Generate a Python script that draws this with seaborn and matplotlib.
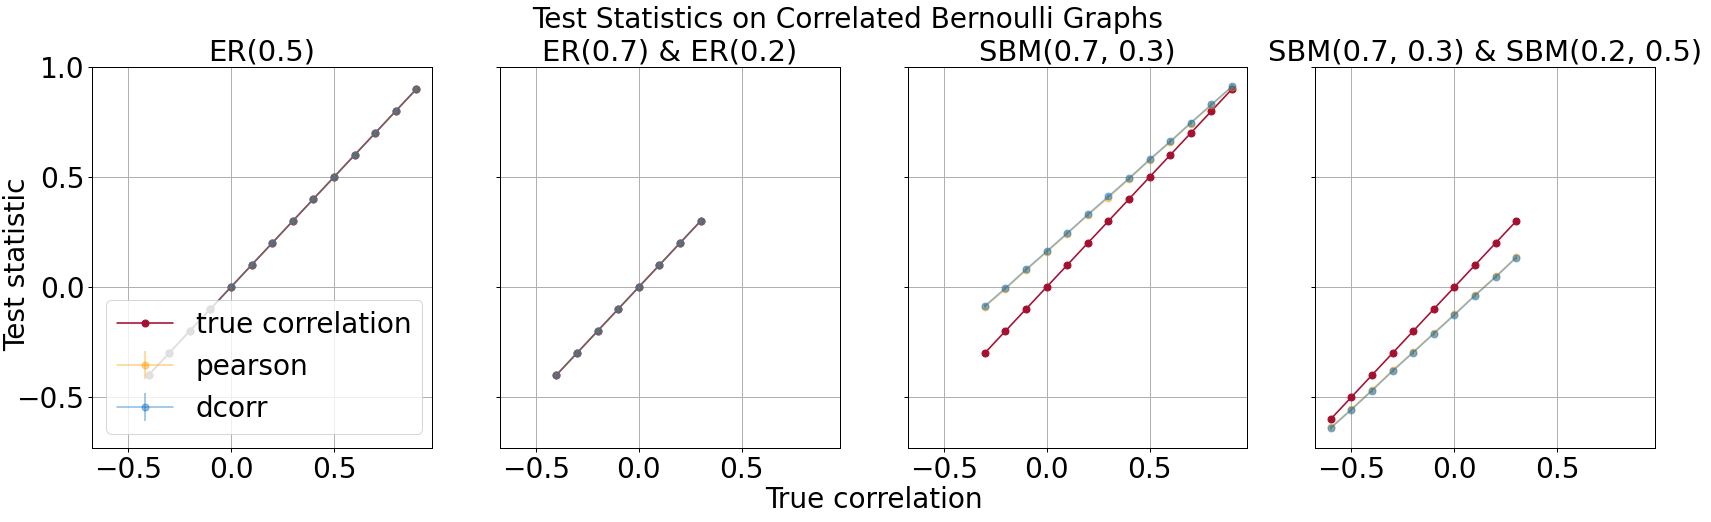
import matplotlib
matplotlib.use("Agg")
import matplotlib.pyplot as plt
import seaborn as sns

# ---------------- data ----------------
titles = ["ER(0.5)", "ER(0.7) & ER(0.2)", "SBM(0.7, 0.3)", "SBM(0.7, 0.3) & SBM(0.2, 0.5)"]

p1_x = [-0.4, -0.3, -0.2, -0.1, 0.0, 0.1, 0.2, 0.3, 0.4, 0.5, 0.6, 0.7, 0.8, 0.9]
p1_true = [-0.4, -0.3, -0.2, -0.1, 0.0, 0.1, 0.2, 0.3, 0.4, 0.5, 0.6, 0.7, 0.8, 0.9]
p1_pearson = [-0.4, -0.3, -0.2, -0.1, 0.0, 0.1, 0.2, 0.3, 0.4, 0.5, 0.6, 0.7, 0.8, 0.9]
p1_dcorr = [-0.4, -0.3, -0.2, -0.1, 0.0, 0.1, 0.2, 0.3, 0.4, 0.5, 0.6, 0.7, 0.8, 0.9]

p2_x = [-0.4, -0.3, -0.2, -0.1, 0.0, 0.1, 0.2, 0.3]
p2_true = [-0.4, -0.3, -0.2, -0.1, 0.0, 0.1, 0.2, 0.3]
p2_pearson = [-0.4, -0.3, -0.2, -0.1, 0.0, 0.1, 0.2, 0.3]
p2_dcorr = [-0.4, -0.3, -0.2, -0.1, 0.0, 0.1, 0.2, 0.3]

p3_x = [-0.3, -0.2, -0.1, 0.0, 0.1, 0.2, 0.3, 0.4, 0.5, 0.6, 0.7, 0.8, 0.9]
p3_true = [-0.3, -0.2, -0.1, 0.0, 0.1, 0.2, 0.3, 0.4, 0.5, 0.6, 0.7, 0.8, 0.9]
p3_pearson = [-0.091, -0.010, 0.076, 0.158, 0.241, 0.326, 0.406, 0.490, 0.576, 0.658, 0.743, 0.826, 0.909]
p3_dcorr = [-0.086, -0.005, 0.080, 0.162, 0.245, 0.330, 0.412, 0.494, 0.580, 0.662, 0.747, 0.830, 0.912]

p4_x = [-0.6, -0.5, -0.4, -0.3, -0.2, -0.1, 0.0, 0.1, 0.2, 0.3]
p4_true = [-0.6, -0.5, -0.4, -0.3, -0.2, -0.1, 0.0, 0.1, 0.2, 0.3]
p4_pearson = [-0.637, -0.554, -0.467, -0.378, -0.294, -0.208, -0.123, -0.035, 0.049, 0.137]
p4_dcorr = [-0.641, -0.558, -0.471, -0.382, -0.298, -0.212, -0.127, -0.039, 0.045, 0.133]

err = 0.01

xs = [p1_x, p2_x, p3_x, p4_x]
trues = [p1_true, p2_true, p3_true, p4_true]
pearsons = [p1_pearson, p2_pearson, p3_pearson, p4_pearson]
dcorrs = [p1_dcorr, p2_dcorr, p3_dcorr, p4_dcorr]

# ---------------- style ----------------
FS = 28
sns.set_style("ticks")
plt.rcParams.update({
    "font.family": ["DejaVu Sans"],
    "font.size": FS,
    "axes.titlesize": 29,
    "xtick.labelsize": FS,
    "ytick.labelsize": FS,
    "legend.fontsize": FS,
    "axes.edgecolor": "black",
    "axes.linewidth": 1.0,
    "xtick.color": "black",
    "ytick.color": "black",
    "text.color": "black",
    "xtick.major.size": 4,
    "ytick.major.size": 4,
    "xtick.major.width": 1.0,
    "ytick.major.width": 1.0,
    "grid.color": "#b0b0b0",
    "grid.linewidth": 1.0,
})

RED = "#a50f30"
ORANGE = "#ffa000"
BLUE = "#0a6fc2"

W, H = 1711, 522
DPI = 72
fig, axes = plt.subplots(1, 4, figsize=(W / DPI, H / DPI), dpi=DPI, sharex=True, sharey=True)
fig.subplots_adjust(left=92 / W, right=1655.3 / W, bottom=1 - 448 / H, top=1 - 67 / H, wspace=0.2)

for i, ax in enumerate(axes):
    sns.lineplot(x=xs[i], y=trues[i], ax=ax, color=RED, marker="o", markersize=7,
                 markeredgecolor=RED, markeredgewidth=1, linewidth=1.6,
                 label="true correlation", legend=False, sort=False, errorbar=None)
    ax.errorbar(xs[i], pearsons[i], yerr=err, color=ORANGE, alpha=0.45, marker="o",
                markersize=7, linewidth=1.6, label="pearson")
    ax.errorbar(xs[i], dcorrs[i], yerr=err, color=BLUE, alpha=0.45, marker="o",
                markersize=7, linewidth=1.6, label="dcorr")
    ax.set_title(titles[i], pad=5)
    ax.grid(True)
    ax.set_xticks([-0.5, 0.0, 0.5])
    ax.set_yticks([-0.5, 0.0, 0.5, 1.0])
    for s in ax.spines.values():
        s.set_visible(True)
        s.set_color("black")

axes[0].set_xlim(-0.675, 0.975)
axes[0].set_ylim(-0.732, 1.0)
axes[0].legend(loc="lower left")

fig.text(847.5 / W, 1 - 28.3 / H, "Test Statistics on Correlated Bernoulli Graphs",
         ha="center", va="baseline", fontsize=FS)
fig.text(873.5 / W, 1 - 508 / H, "True correlation", ha="center", va="baseline", fontsize=FS)
fig.text(17.5 / W, 257.5 / H, "Test statistic", ha="center", va="center",
         rotation=90, fontsize=FS)

fig.savefig("out.png", dpi=DPI)
